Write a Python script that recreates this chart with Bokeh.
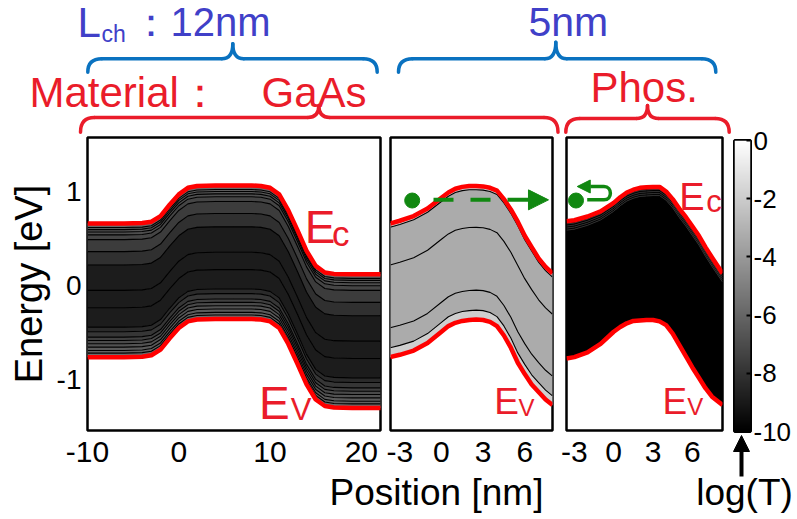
import numpy as np
from bokeh.plotting import figure
from bokeh.models import (Range1d, FixedTicker, LinearColorMapper, ColumnDataSource,
                          Arrow, NormalHead, GridBox)
from bokeh.transform import transform
from bokeh.core.properties import value
from bokeh.embed import file_html
from bokeh.resources import INLINE

FONT = "Liberation Sans"
RED_TXT = "#ea1c2a"
BLUE_TXT = "#4040c8"
BLUE_BR = "#0a72c0"
GREEN = "#118811"
W, H = 797, 519

# ---------------- data ----------------
# GaAs, Lch = 12 nm
gaas12_x = [-10, -6, -4, -3, -2, -1, 0, 1, 2, 4, 6, 8, 9, 10, 11, 12, 13, 14, 15, 16, 17, 19, 22.2]
gaas12_ec = [0.66, 0.66, 0.665, 0.68, 0.74, 0.86, 0.97, 1.04, 1.06, 1.065, 1.065, 1.065, 1.06, 1.04,
             0.97, 0.80, 0.59, 0.37, 0.21, 0.14, 0.125, 0.12, 0.12]
gaas12_ev = [-0.76, -0.76, -0.755, -0.74, -0.68, -0.56, -0.45, -0.38, -0.36, -0.355, -0.355, -0.355,
             -0.36, -0.38, -0.45, -0.62, -0.83, -1.05, -1.21, -1.28, -1.295, -1.30, -1.30]
gaas12_levels = [0.03, 0.045, 0.063, 0.085, 0.12, 0.21, 0.31, 0.50, 0.63, 0.775, 0.81, 0.85,
                 0.875, 0.90, 0.925, 0.95, 0.97]
gaas12_band_logT = [-5.84, -6.31, -6.67, -6.98, -7.29, -7.65, -8.12, -8.9, -8.9, -8.9, -8.35,
                    -7.88, -7.49, -7.10, -6.78, -6.47, -6.16, -5.84]

# GaAs, Lch = 5 nm
gaas5_x = [-3.7, -3, -2, -1, 0, 0.5, 1, 1.5, 2, 2.5, 3, 3.5, 4, 4.5, 5, 5.5, 6, 6.5, 7, 7.5, 8.0]
gaas5_ec = [0.66, 0.69, 0.74, 0.82, 0.935, 0.99, 1.03, 1.05, 1.06, 1.06, 1.055, 1.04, 1.01, 0.92,
            0.81, 0.68, 0.53, 0.41, 0.29, 0.20, 0.13]
gaas5_ev = [-0.76, -0.735, -0.69, -0.61, -0.49, -0.43, -0.395, -0.375, -0.365, -0.36, -0.365,
            -0.385, -0.43, -0.53, -0.66, -0.82, -0.94, -1.05, -1.13, -1.21, -1.27]
gaas5_levels = [0.028, 0.31, 0.78, 0.93]
gaas5_band_logT = [-1.9, -3.3, -3.3, -3.3, -1.9]

# Phosphorene, Lch = 5 nm
phos5_x = [-3.6, -3, -2, -1, 0, 0.5, 1, 1.5, 2, 2.5, 3, 3.5, 4, 4.5, 5, 5.5, 6, 6.5, 7, 7.5, 8.3]
phos5_ec = [0.685, 0.695, 0.735, 0.79, 0.88, 0.94, 0.99, 1.02, 1.04, 1.045, 1.05, 1.05, 1.0, 0.92,
            0.82, 0.73, 0.63, 0.53, 0.41, 0.30, 0.13]
phos5_ev = [-0.775, -0.76, -0.71, -0.62, -0.49, -0.44, -0.40, -0.375, -0.37, -0.365, -0.365,
            -0.38, -0.42, -0.51, -0.63, -0.75, -0.87, -0.98, -1.09, -1.18, -1.27]
phos5_levels = [0.02, 0.035, 0.05, 0.065]
phos5_band_logT = [-10, -10, -10, -10, -10]

x_ticks_12 = [-10, 0, 10, 20]
x_ticks_5 = [-3, 0, 3, 6]
y_ticks = [-1, 0, 1]
cbar_ticks = [0, -2, -4, -6, -8, -10]
logT_low, logT_high = -10, 0

gray_palette = ["#%02x%02x%02x" % (i, i, i) for i in range(256)]
mapper = LinearColorMapper(palette=gray_palette, low=logT_low, high=logT_high)

Y_RANGE = (-1.54, 1.575)
FRAME_TOP, FRAME_BOTTOM = 137, 430
PX_PER_EV = (FRAME_BOTTOM - FRAME_TOP) / (Y_RANGE[1] - Y_RANGE[0])
BASE_FIX = 0.34   # raise text so that its alphabetic baseline lands at the requested y


def hyphen_labels(ticks):
    return {t: str(t) for t in ticks}


def layer(x_range, y_range, left, right, top, bottom, **kw):
    """A full-page, transparent figure whose frame sits at the given page box."""
    p = figure(width=W, height=H, x_range=x_range, y_range=y_range,
               output_backend="svg", toolbar_location=None,
               min_border_left=left, min_border_right=W - right,
               min_border_top=top, min_border_bottom=H - bottom, **kw)
    p.frame_align = False
    p.xgrid.visible = False
    p.ygrid.visible = False
    p.background_fill_color = None
    p.border_fill_color = None
    return p


def add_text(p, x, y, text, size, color, align="left", px_per_unit=1.0):
    y_adj = y + BASE_FIX * size / px_per_unit
    p.text(x=[x], y=[y_adj], text=[text], text_font=value(FONT),
           text_font_size=value("%gpx" % size),
           text_color=color, text_align=align, text_baseline="alphabetic")


def panel(x, ec, ev, levels, band_logT, xr, xticks, left, right, line_color, line_w, show_y):
    p = layer(Range1d(*xr), Range1d(*Y_RANGE), left, right, FRAME_TOP, FRAME_BOTTOM,
              y_axis_location="left" if show_y else None)
    p.outline_line_color = "black"
    p.outline_line_width = 2.5
    x = np.array(x, dtype=float)
    ec = np.array(ec, dtype=float)
    ev = np.array(ev, dtype=float)
    fr = [0.0] + list(levels) + [1.0]
    xs, ys = [], []
    for k in range(len(fr) - 1):
        up = ec - fr[k] * (ec - ev)
        lo = ec - fr[k + 1] * (ec - ev)
        xs.append(list(x) + list(x[::-1]))
        ys.append(list(up) + list(lo[::-1]))
    src = ColumnDataSource(dict(xs=xs, ys=ys, logT=band_logT))
    p.patches('xs', 'ys', source=src, fill_color=transform('logT', mapper),
              line_color=transform('logT', mapper), line_width=0.6)
    p.multi_line([list(x)] * len(levels), [list(ec - f * (ec - ev)) for f in levels],
                 line_color=line_color, line_width=line_w)
    p.line(x, ec, line_color="#ff0000", line_width=4.5, line_join="round")
    p.line(x, ev, line_color="#ff0000", line_width=4.5, line_join="round")

    ax = p.xaxis[0]
    ax.ticker = FixedTicker(ticks=xticks)
    ax.major_label_overrides = hyphen_labels(xticks)
    ax.major_tick_line_color = None
    ax.minor_tick_line_color = None
    ax.major_tick_out = 0
    ax.major_tick_in = 0
    ax.axis_line_color = None
    ax.major_label_text_font = FONT
    ax.major_label_text_font_size = "30px"
    ax.major_label_text_color = "black"
    ax.major_label_standoff = 11
    if show_y:
        ay = p.yaxis[0]
        ay.ticker = FixedTicker(ticks=y_ticks)
        ay.major_label_overrides = hyphen_labels(y_ticks)
        ay.major_tick_line_color = None
        ay.minor_tick_line_color = None
        ay.major_tick_out = 0
        ay.major_tick_in = 0
        ay.axis_line_color = None
        ay.major_label_text_font = FONT
        ay.major_label_text_font_size = "28px"
        ay.major_label_text_color = "black"
        ay.major_label_standoff = 6
        ay.axis_label = "Energy [eV]"
        ay.axis_label_text_font = FONT
        ay.axis_label_text_font_size = "38px"
        ay.axis_label_text_font_style = "normal"
        ay.axis_label_text_color = "black"
        ay.axis_label_standoff = 4
    return p


def panel_text(p, x, y, text, size):
    add_text(p, x, y, text, size, RED_TXT, px_per_unit=PX_PER_EV)


p1 = panel(gaas12_x, gaas12_ec, gaas12_ev, gaas12_levels, gaas12_band_logT, (-10, 22.1),
           x_ticks_12, 87, 380, "black", 1.1, True)
p2 = panel(gaas5_x, gaas5_ec, gaas5_ev, gaas5_levels, gaas5_band_logT, (-3.67, 8.0),
           x_ticks_5, 390, 552, "black", 1.1, False)
p3 = panel(phos5_x, phos5_ec, phos5_ev, phos5_levels, phos5_band_logT, (-3.6, 8.3),
           x_ticks_5, 566, 722, "#3a3a3a", 0.8, False)

# band-edge labels
panel_text(p1, 13.79, 0.458, "E", 46)
panel_text(p1, 16.8, 0.426, "c", 35)
panel_text(p1, 8.79, -1.413, "E", 46)
panel_text(p1, 12.26, -1.434, "V", 31)
panel_text(p2, 3.81, -1.363, "E", 37)
panel_text(p2, 5.55, -1.381, "V", 24)
panel_text(p3, 5.0, 0.806, "E", 38)
panel_text(p3, 7.06, 0.780, "c", 31)
panel_text(p3, 3.72, -1.363, "E", 37)
panel_text(p3, 5.61, -1.370, "V", 24)

# electron transmitting over the barrier (5 nm GaAs)
p2.scatter([-2.107], [0.905], size=15, color=GREEN)
p2.line([-0.572, 3.535], [0.912, 0.912], line_color=GREEN, line_width=4, line_dash="20 17")
p2.add_layout(Arrow(end=NormalHead(size=20, fill_color=GREEN, line_color=GREEN),
                    x_start=4.76, y_start=0.912, x_end=7.71, y_end=0.912,
                    line_color=GREEN, line_width=4))
# electron reflected (phosphorene)
p3.scatter([-2.875], [0.905], size=15, color=GREEN)
p3.segment(x0=[-1.77, -0.74], y0=[1.054, 0.912], x1=[-0.74, -2.02], y1=[1.054, 0.912],
           line_color=GREEN, line_width=3.5)
p3.bezier(x0=[-0.74], y0=[1.054], x1=[-0.74], y1=[0.912], cx0=[-0.09], cy0=[1.054],
          cx1=[-0.09], cy1=[0.912], line_color=GREEN, line_width=3.5)
p3.add_layout(Arrow(end=NormalHead(size=13, fill_color=GREEN, line_color=GREEN),
                    x_start=-1.77, y_start=1.054, x_end=-2.78, y_end=1.054,
                    line_color=GREEN, line_width=3.5))

# ---------------- colour bar ----------------
pcb = layer(Range1d(0, 1), Range1d(logT_low, logT_high), 734, 750, 140, 431,
            x_axis_location=None, y_axis_location="right")
pcb.outline_line_color = "black"
pcb.outline_line_width = 3
grad = np.linspace(logT_low, logT_high, 256).reshape(256, 1)
pcb.image(image=[grad], x=0, y=logT_low, dw=1, dh=logT_high - logT_low, color_mapper=mapper)
ay = pcb.yaxis[0]
ay.ticker = FixedTicker(ticks=cbar_ticks)
ay.major_label_overrides = hyphen_labels(cbar_ticks)
ay.major_tick_in = 4
ay.major_tick_out = 0
ay.major_tick_line_width = 2
ay.major_tick_line_color = "black"
ay.minor_tick_line_color = None
ay.axis_line_color = None
ay.major_label_text_font = FONT
ay.major_label_text_font_size = "26px"
ay.major_label_text_color = "black"
ay.major_label_standoff = 3

# ---------------- page-level annotations (braces, headings, axis titles) ----------------
page = layer(Range1d(0, W), Range1d(H, 0), 0, W, 0, H,
             x_axis_location=None, y_axis_location=None)
page.outline_line_color = None


def page_text(x, y, text, size, color, align="left"):
    add_text(page, x, y, text, size, color, align=align, px_per_unit=-1.0)


braces = [  # x_left, x_right, x_tip, y_end, y_flat, y_tip, colour
    (87.3, 376.7, 232.3, 71.7, 58.3, 43.3, BLUE_BR),
    (398.0, 715.3, 555.3, 71.7, 58.3, 41.7, BLUE_BR),
    (80.0, 557.5, 318.3, 131.7, 117.0, 105.0, RED_TXT),
    (565.3, 728.7, 647.0, 131.7, 118.0, 105.0, RED_TXT),
]
for (x0, x1, xt, ye, yf, yt, c) in braces:
    r, r2 = 14, 11
    page.quadratic(x0=[x0, xt - r2, xt, x1 - r], y0=[ye, yf, yt, yf],
                   x1=[x0 + r, xt, xt + r2, x1], y1=[yf, yt, yf, ye],
                   cx=[x0, xt, xt, x1], cy=[yf, yf, yf, yf],
                   line_color=c, line_width=3.5, line_cap="round")
    page.segment(x0=[x0 + r, xt + r2], y0=[yf, yf], x1=[xt - r2, x1 - r], y1=[yf, yf],
                 line_color=c, line_width=3.5, line_cap="round")

page_text(77, 36.7, "L", 42, BLUE_TXT)
page_text(101, 41.7, "ch", 23, BLUE_TXT)
page_text(130, 35, "：12nm", 40, BLUE_TXT)
page_text(528, 35, "5nm", 41, BLUE_TXT)
page_text(29, 106.7, "Material：", 42, RED_TXT)
page_text(261, 106.7, "GaAs", 42, RED_TXT)
page_text(590, 101.7, "Phos.", 42, RED_TXT)
page_text(436, 505, "Position [nm]", 37, "black", align="center")
page_text(744, 505, "log(T)", 37, "black", align="center")
page.add_layout(Arrow(end=NormalHead(size=16, fill_color="black", line_color="black"),
                      x_start=741, y_start=476, x_end=741, y_end=435,
                      line_color="black", line_width=4))

layout = GridBox(children=[(p1, 0, 0), (p2, 0, 0), (p3, 0, 0), (pcb, 0, 0), (page, 0, 0)],
                 width=W, height=H)

open("out.html", "w").write(file_html(layout, INLINE))
